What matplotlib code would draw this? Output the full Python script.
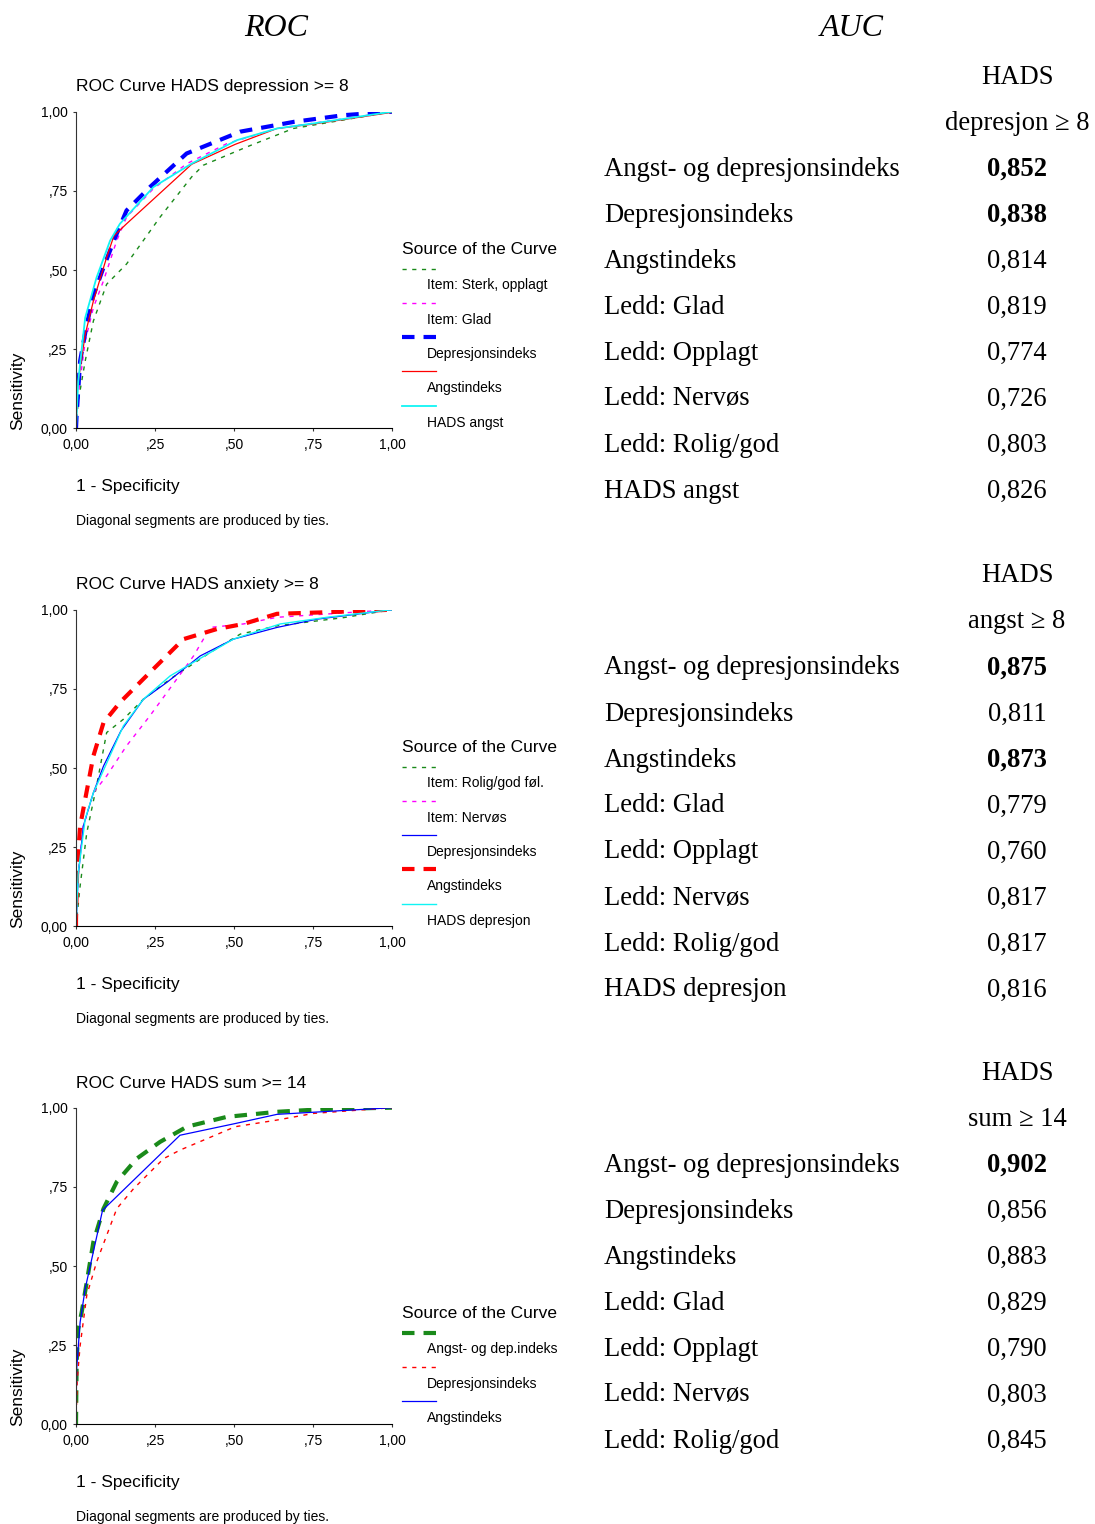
import numpy as np
import matplotlib
matplotlib.use("Agg")
import matplotlib.pyplot as plt
from matplotlib.lines import Line2D

plt.rcParams['lines.scale_dashes'] = False

# --- data: ROC curves (x = 1 - specificity, y = sensitivity)
# panel 1: HADS depression >= 8
p1_sterk_x = [0, 0.007, 0.029, 0.055, 0.097, 0.16, 0.266, 0.366, 0.403, 0.541, 0.688, 1.0]
p1_sterk_y = [0, 0.085, 0.212, 0.339, 0.455, 0.519, 0.667, 0.794, 0.831, 0.889, 0.947, 1.0]
p1_glad_x = [0, 0.007, 0.029, 0.055, 0.087, 0.129, 0.16, 0.245, 0.351, 0.477, 0.636, 1.0]
p1_glad_y = [0, 0.106, 0.275, 0.381, 0.466, 0.593, 0.667, 0.757, 0.836, 0.899, 0.947, 1.0]
p1_dep_x = [0, 0.002, 0.013, 0.032, 0.053, 0.087, 0.124, 0.16, 0.234, 0.35, 0.52, 0.69, 0.847, 1.0]
p1_dep_y = [0, 0.042, 0.212, 0.317, 0.413, 0.508, 0.603, 0.688, 0.762, 0.868, 0.937, 0.968, 0.989, 1.0]
p1_angst_x = [0, 0.004, 0.029, 0.055, 0.097, 0.12, 0.16, 0.366, 0.504, 0.636, 0.752, 1.0]
p1_angst_y = [0, 0.127, 0.296, 0.402, 0.54, 0.608, 0.646, 0.834, 0.897, 0.947, 0.961, 0.998]
p1_hads_x = [0, 0.007, 0.029, 0.065, 0.108, 0.139, 0.245, 0.366, 0.509, 0.636, 0.752, 1.0]
p1_hads_y = [0, 0.148, 0.349, 0.476, 0.593, 0.646, 0.762, 0.836, 0.91, 0.947, 0.963, 1.0]

# panel 2: HADS anxiety >= 8
p2_rolig_x = [0, 0.013, 0.034, 0.065, 0.097, 0.15, 0.213, 0.298, 0.425, 0.52, 0.636, 0.847, 1.0]
p2_rolig_y = [0, 0.127, 0.295, 0.443, 0.612, 0.654, 0.717, 0.781, 0.865, 0.923, 0.949, 0.975, 1.0]
p2_nerv_x = [0, 0.007, 0.023, 0.055, 0.097, 0.16, 0.234, 0.319, 0.372, 0.425, 0.53, 0.636, 1.0]
p2_nerv_y = [0, 0.169, 0.316, 0.422, 0.475, 0.57, 0.665, 0.781, 0.854, 0.944, 0.955, 0.976, 1.0]
p2_dep_x = [0, 0.007, 0.023, 0.055, 0.087, 0.142, 0.213, 0.287, 0.393, 0.498, 0.636, 0.762, 1.0]
p2_dep_y = [0, 0.158, 0.316, 0.422, 0.506, 0.617, 0.717, 0.77, 0.854, 0.907, 0.944, 0.97, 1.0]
p2_angst_x = [0, 0.0, 0.004, 0.013, 0.029, 0.055, 0.087, 0.139, 0.213, 0.34, 0.446, 0.53, 0.636, 0.794, 1.0]
p2_angst_y = [0, 0.021, 0.19, 0.316, 0.401, 0.538, 0.643, 0.707, 0.781, 0.907, 0.939, 0.955, 0.987, 0.992, 1.0]
p2_hads_x = [0, 0.007, 0.029, 0.055, 0.15, 0.213, 0.298, 0.498, 0.646, 0.794, 1.0]
p2_hads_y = [0, 0.169, 0.338, 0.422, 0.633, 0.717, 0.791, 0.907, 0.955, 0.976, 1.0]

# panel 3: HADS sum >= 14
p3_ad_x = [0, 0.002, 0.007, 0.018, 0.034, 0.055, 0.087, 0.129, 0.192, 0.266, 0.351, 0.477, 0.636, 0.794, 1.0]
p3_ad_y = [0, 0.195, 0.301, 0.354, 0.449, 0.576, 0.681, 0.766, 0.839, 0.892, 0.94, 0.971, 0.987, 0.996, 1.0]
p3_dep_x = [0, 0.004, 0.013, 0.034, 0.065, 0.129, 0.182, 0.277, 0.329, 0.504, 0.636, 0.752, 1.0]
p3_dep_y = [0, 0.143, 0.248, 0.407, 0.512, 0.681, 0.744, 0.839, 0.866, 0.94, 0.961, 0.982, 1.0]
p3_angst_x = [0, 0.002, 0.013, 0.029, 0.084, 0.329, 0.504, 0.636, 1.0]
p3_angst_y = [0, 0.174, 0.322, 0.428, 0.676, 0.913, 0.95, 0.979, 1.0]

# AUC tables
row_labels = ["Angst- og depresjonsindeks", "Depresjonsindeks", "Angstindeks",
              "Ledd: Glad", "Ledd: Opplagt", "Ledd: Nervøs", "Ledd: Rolig/god"]
t1_head = ["HADS", "depresjon \u2265 8"]
t1_labels = row_labels + ["HADS angst"]
t1_vals = ["0,852", "0,838", "0,814", "0,819", "0,774", "0,726", "0,803", "0,826"]
t1_bold = [True, True, False, False, False, False, False, False]
t2_head = ["HADS", "angst \u2265 8"]
t2_labels = row_labels + ["HADS depresjon"]
t2_vals = ["0,875", "0,811", "0,873", "0,779", "0,760", "0,817", "0,817", "0,816"]
t2_bold = [True, False, True, False, False, False, False, False]
t3_head = ["HADS", "sum \u2265 14"]
t3_labels = row_labels
t3_vals = ["0,902", "0,856", "0,883", "0,829", "0,790", "0,803", "0,845"]
t3_bold = [True, False, False, False, False, False, False]

titles = ["ROC Curve HADS depression >= 8", "ROC Curve HADS anxiety >= 8", "ROC Curve HADS sum >= 14"]

# style per series: (color, linewidth, dashes or None)
thin_dash = (3, 4)
thick_dash = (9, 6.5)
GREEN = '#1a8a1a'
CYAN = '#10f4f4'
panels = [
    [(p1_sterk_x, p1_sterk_y, "Item: Sterk, opplagt", GREEN, 1.0, thin_dash),
     (p1_glad_x, p1_glad_y, "Item: Glad", '#ff00ff', 1.0, thin_dash),
     (p1_dep_x, p1_dep_y, "Depresjonsindeks", '#0000ff', 3.0, thick_dash),
     (p1_angst_x, p1_angst_y, "Angstindeks", '#ff0000', 0.9, None),
     (p1_hads_x, p1_hads_y, "HADS angst", CYAN, 1.3, None)],
    [(p2_rolig_x, p2_rolig_y, "Item: Rolig/god føl.", GREEN, 1.0, thin_dash),
     (p2_nerv_x, p2_nerv_y, "Item: Nervøs", '#ff00ff', 1.0, thin_dash),
     (p2_dep_x, p2_dep_y, "Depresjonsindeks", '#0000ff', 0.9, None),
     (p2_angst_x, p2_angst_y, "Angstindeks", '#ff0000', 3.0, thick_dash),
     (p2_hads_x, p2_hads_y, "HADS depresjon", CYAN, 1.0, None)],
    [(p3_ad_x, p3_ad_y, "Angst- og dep.indeks", GREEN, 3.0, thick_dash),
     (p3_dep_x, p3_dep_y, "Depresjonsindeks", '#ff0000', 1.0, thin_dash),
     (p3_angst_x, p3_angst_y, "Angstindeks", '#0000ff', 0.9, None)],
]
tables = [(t1_head, t1_labels, t1_vals, t1_bold),
          (t2_head, t2_labels, t2_vals, t2_bold),
          (t3_head, t3_labels, t3_vals, t3_bold)]

W, H = 1095, 1524
fig = plt.figure(figsize=(W / 100, H / 100), dpi=100)

def fx(px):
    return px / W

def fy(py):
    return 1 - py / H

SANS = 'Liberation Sans'
SERIF = 'Liberation Serif'

fig.text(fx(276), fy(28), "ROC", family=SERIF, style='italic', fontsize=23, ha='center', va='center')
fig.text(fx(852), fy(28), "AUC", family=SERIF, style='italic', fontsize=23, ha='center', va='center')

offsets = [0, 498, 996]
head_y = [(77, 122), (575, 621), (1072, 1118)]
for i, series in enumerate(panels):
    o = offsets[i]
    top, bot = 111.7 + o, 428.3 + o
    ax = fig.add_axes([fx(76), fy(bot), fx(316), (bot - top) / H])
    for x, y, lab, col, lw, dash in series:
        line, = ax.plot(x, y, color=col, lw=lw, solid_joinstyle='miter')
        if dash:
            line.set_dashes(dash)
    ax.set_xlim(0, 1)
    ax.set_ylim(0, 1)
    ax.spines['top'].set_visible(False)
    ax.spines['right'].set_visible(False)
    ax.spines['left'].set_color('#333333')
    ax.spines['bottom'].set_color('#000000')
    ticks = [0, 0.25, 0.5, 0.75, 1.0]
    tlabs = ["0,00", ",25", ",50", ",75", "1,00"]
    ax.set_xticks(ticks, tlabs)
    ax.set_yticks(ticks, tlabs)
    ax.tick_params(axis='both', length=2, width=0.8, labelsize=10, pad=4, colors='#333333', labelcolor='black')
    for t in ax.get_xticklabels() + ax.get_yticklabels():
        t.set_family(SANS)
    ax.tick_params(axis='x', pad=5)

    fig.text(fx(76), fy(87 + o), titles[i], family=SANS, fontsize=12.5, ha='left', va='center')
    fig.text(fx(76), fy(487 + o), "1 - Specificity", family=SANS, fontsize=12.5, ha='left', va='center')
    fig.text(fx(76), fy(521 + o), "Diagonal segments are produced by ties.", family=SANS, fontsize=10,
             ha='left', va='center')
    fig.text(fx(18), fy(430 + o), "Sensitivity", family=SANS, fontsize=12.5, rotation=90,
             ha='center', va='bottom')

    # legend: sample line above each label
    ly0 = 250 + o if len(series) == 5 else 1314
    fig.text(fx(402), fy(ly0), "Source of the Curve", family=SANS, fontsize=12.5, ha='left', va='center')
    for k, (x, y, lab, col, lw, dash) in enumerate(series):
        yl = ly0 + 18.5 + 34.3 * k
        ln = Line2D([fx(402), fx(436)], [fy(yl), fy(yl)], color=col, lw=lw, transform=fig.transFigure)
        if dash:
            ln.set_dashes(dash)
        fig.add_artist(ln)
        fig.text(fx(427), fy(yl + 17), lab, family=SANS, fontsize=10, ha='left', va='center')

    # AUC table
    head, labs, vals, bold = tables[i]
    hy = head_y[i]
    fig.text(fx(1017), fy(hy[0] + 1), head[0], family=SERIF, fontsize=19.2, ha='center', va='center')
    fig.text(fx(1017), fy(hy[1] + 1), head[1], family=SERIF, fontsize=19.2, ha='center', va='center')
    for r, (lab, v, b) in enumerate(zip(labs, vals, bold)):
        yr = hy[1] + 46 * (r + 1) + 1
        fig.text(fx(604), fy(yr), lab, family=SERIF, fontsize=19.2, ha='left', va='center')
        fig.text(fx(1047), fy(yr), v, family=SERIF, fontsize=19.2, ha='right', va='center',
                 weight='bold' if b else 'normal')

fig.savefig("out.png", dpi=100)
